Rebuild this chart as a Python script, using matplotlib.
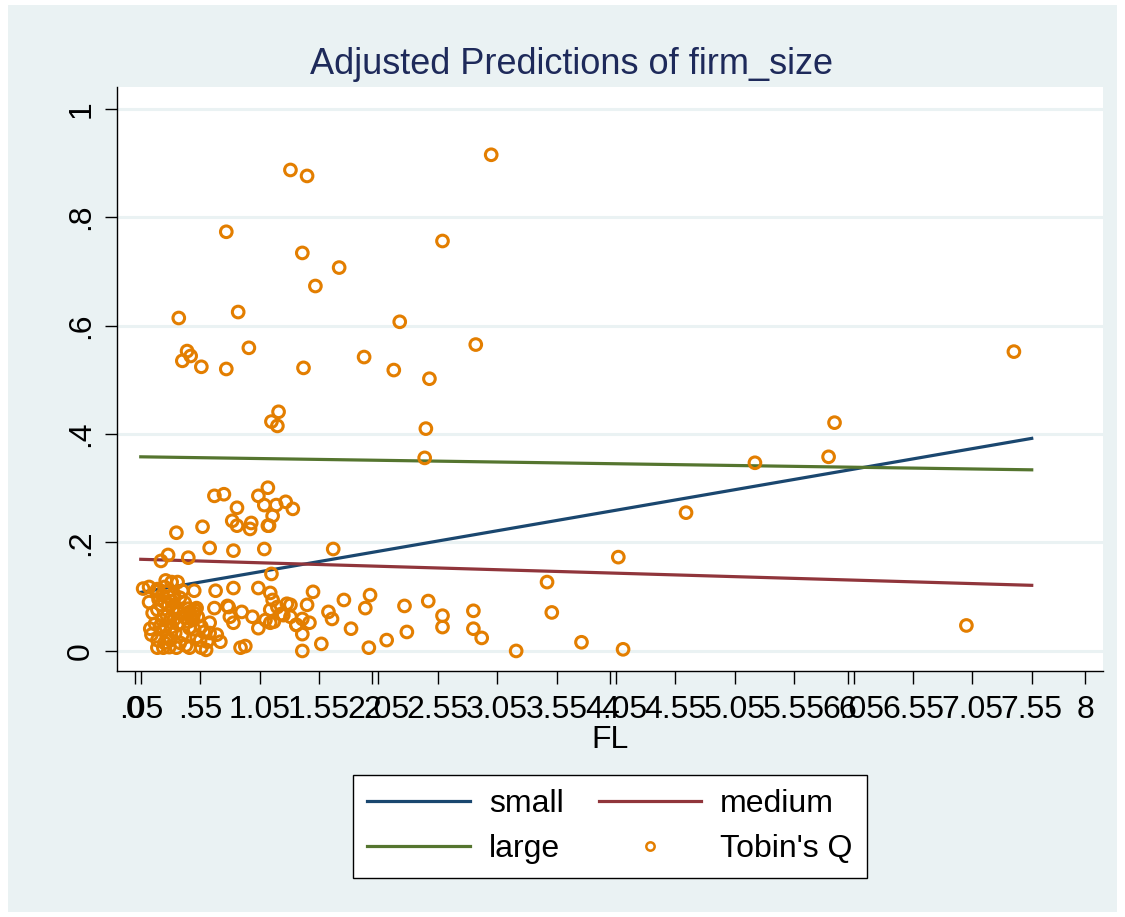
import matplotlib
matplotlib.use("Agg")
import matplotlib.pyplot as plt
from matplotlib.patches import Rectangle
from matplotlib.lines import Line2D

plt.rcParams['font.family'] = ['Liberation Sans', 'DejaVu Sans']

# margins lines (predicted values at FL = .05 and 7.55)
line_fl = [0.05, 7.55]
small_pred = [0.108, 0.392]
medium_pred = [0.169, 0.121]
large_pred = [0.358, 0.334]

# observed Tobin's Q vs FL
q_x = [1.31, 1.45, 3.00, 0.77, 1.41, 2.59, 1.72, 1.52, 0.37, 0.87, 2.23, 2.87, 0.96,
       0.44, 0.47, 0.40, 0.56, 0.77, 1.42, 1.93, 2.18, 2.48, 7.40,
       1.21, 1.15, 1.20, 5.89, 2.45, 5.84, 2.44, 5.22,
       0.67, 0.75, 0.86, 0.82, 0.86, 0.57, 0.35, 0.98, 0.97, 1.04, 1.12, 1.09, 1.19,
       1.27, 1.33, 1.16, 1.13, 1.12, 4.64,
       0.22, 0.28, 0.45, 0.63, 0.83, 1.09, 1.67, 4.07, 1.15,
       3.47, 3.51, 3.76, 4.11, 7.00, 3.21,
       1.50, 1.45, 1.41, 1.36, 1.47, 1.41, 1.41, 1.57, 1.63, 1.66, 1.76, 1.82, 1.94,
       1.98, 1.97, 2.12, 2.27, 2.29, 2.47, 2.59, 2.59, 2.85, 2.85, 2.92, 1.31, 1.31,
       0.12, 0.19, 0.25, 0.31, 0.36, 0.40, 0.50, 0.68, 0.83, 1.04, 1.14, 0.07, 0.26,
       0.23, 0.29, 0.19, 0.28, 0.32, 0.42, 0.46, 0.52, 0.53, 0.67, 0.78, 0.80, 0.83,
       0.90, 0.99, 1.16, 1.20, 1.14, 1.28, 1.25, 1.14, 1.10, 1.04, 1.17,
       0.13, 0.23, 0.24, 0.31, 0.34, 0.45, 0.46, 0.52, 0.63, 0.63, 0.69, 0.72, 0.55,
       0.61, 0.19, 0.19, 0.24, 0.29, 0.35, 0.38, 0.46, 0.56, 0.60, 0.89, 0.93,
       0.47, 0.50, 0.45, 0.49, 0.44, 0.51, 0.48, 0.42, 0.37, 0.35, 0.33, 0.27, 0.25,
       0.20, 0.31, 0.38, 0.56, 0.58, 0.40, 0.27, 0.21, 0.36, 0.25, 0.30, 0.43, 0.50,
       0.12, 0.15, 0.17, 0.14, 0.22, 0.26, 0.30, 0.33, 0.18, 0.28, 0.79, 1.23, 1.36]
q_y = [0.887, 0.876, 0.915, 0.773, 0.734, 0.756, 0.707, 0.673, 0.614, 0.625, 0.607, 0.565, 0.559,
       0.553, 0.544, 0.535, 0.524, 0.520, 0.522, 0.542, 0.518, 0.502, 0.552,
       0.441, 0.423, 0.415, 0.421, 0.410, 0.358, 0.356, 0.347,
       0.286, 0.289, 0.264, 0.240, 0.231, 0.229, 0.218, 0.236, 0.225, 0.286, 0.301, 0.269, 0.269,
       0.275, 0.262, 0.249, 0.231, 0.231, 0.255,
       0.166, 0.177, 0.172, 0.190, 0.185, 0.188, 0.188, 0.173, 0.142,
       0.127, 0.071, 0.016, 0.003, 0.047, 0.000,
       0.109, 0.085, 0.059, 0.048, 0.052, 0.031, 0.000, 0.013, 0.072, 0.059, 0.094, 0.041, 0.079,
       0.103, 0.006, 0.020, 0.083, 0.035, 0.092, 0.065, 0.044, 0.074, 0.041, 0.024, 0.085, 0.063,
       0.118, 0.114, 0.118, 0.127, 0.127, 0.111, 0.111, 0.111, 0.116, 0.116, 0.107, 0.115, 0.130,
       0.103, 0.100, 0.076, 0.085, 0.076, 0.089, 0.072, 0.079, 0.063, 0.079, 0.083, 0.063, 0.052,
       0.072, 0.063, 0.094, 0.081, 0.076, 0.087, 0.066, 0.052, 0.057, 0.042, 0.054,
       0.041, 0.057, 0.039, 0.044, 0.033, 0.054, 0.042, 0.026, 0.052, 0.033, 0.030, 0.017, 0.020,
       0.017, 0.020, 0.006, 0.006, 0.007, 0.006, 0.015, 0.006, 0.006, 0.002, 0.006, 0.009,
       0.065, 0.070, 0.078, 0.060, 0.068, 0.075, 0.058, 0.062, 0.070, 0.080, 0.058, 0.065, 0.090,
       0.095, 0.092, 0.098, 0.045, 0.035, 0.030, 0.025, 0.045, 0.050, 0.015, 0.020, 0.010, 0.040,
       0.090, 0.070, 0.050, 0.030, 0.085, 0.045, 0.060, 0.105, 0.110, 0.110, 0.081, 0.068, 0.048]

# axis ticks (Stata overlaid default ticks with the margins at() values)
xtick_vals = [0, 2, 4, 6, 8] + [0.05 + 0.5 * k for k in range(16)]
xtick_labels = ["0", "2", "4", "6", "8", ".05", ".55", "1.05", "1.55", "2.05", "2.55",
                "3.05", "3.55", "4.05", "4.55", "5.05", "5.55", "6.05", "6.55", "7.05", "7.55"]
ytick_vals = [0, 0.2, 0.4, 0.6, 0.8, 1.0]
ytick_labels = ["0", ".2", ".4", ".6", ".8", "1"]

bg = "#EAF2F3"
navy = "#1A476F"
maroon = "#90353B"
green = "#55752F"
orange = "#E37E00"

fig = plt.figure(figsize=(11.25, 9.17), dpi=100, facecolor="white")
fig.patches.append(Rectangle((8 / 1125, 1 - 912 / 917), (1117 - 8) / 1125, (912 - 5) / 917,
                             transform=fig.transFigure, facecolor=bg, edgecolor="none", zorder=-10))

ax = fig.add_axes([117 / 1125, 1 - 671 / 917, (1103 - 117) / 1125, (671 - 87) / 917])
ax.set_facecolor("white")

for yv in ytick_vals:
    ax.axhline(yv, color=bg, lw=2.2, zorder=0)

ax.plot(line_fl, small_pred, color=navy, lw=2.3, label="small", zorder=3)
ax.plot(line_fl, medium_pred, color=maroon, lw=2.3, label="medium", zorder=3)
ax.plot(line_fl, large_pred, color=green, lw=2.3, label="large", zorder=3)
ax.scatter(q_x, q_y, s=70, facecolors="none", edgecolors=orange, linewidths=2.2, zorder=4)

ax.set_xlim(-0.15, 8.15)
ax.set_ylim(-0.037, 1.04)
ax.set_xticks(xtick_vals)
ax.set_xticklabels(xtick_labels)
ax.set_yticks(ytick_vals)
ax.set_yticklabels(ytick_labels, rotation=90, va="center")
ax.tick_params(axis="both", length=9, width=1, color="black", labelsize=23, direction="out")
ax.tick_params(axis="x", pad=8)
ax.tick_params(axis="y", pad=6)

for s in ["top", "right"]:
    ax.spines[s].set_visible(False)
ax.spines["left"].set_linewidth(1)
ax.spines["bottom"].set_linewidth(1)

ax.set_xlabel("FL", fontsize=23, labelpad=0)
fig.text(572 / 1125, 1 - 64 / 917, "Adjusted Predictions of firm_size", ha="center", va="center",
         fontsize=26, color="#1E2A5A")

handles = [Line2D([], [], color=navy, lw=2.3),
           Line2D([], [], color=green, lw=2.3),
           Line2D([], [], color=maroon, lw=2.3),
           Line2D([], [], marker="o", ls="none", markerfacecolor="none",
                  markeredgecolor=orange, markersize=6, markeredgewidth=1.8)]
labels = ["small", "large", "medium", "Tobin's Q"]
leg = fig.legend(handles, labels, ncol=2, loc="upper center",
                 bbox_to_anchor=(610 / 1125, 1 - 775 / 917), borderaxespad=0, fontsize=23,
                 frameon=True, fancybox=False, edgecolor="black", framealpha=1,
                 handlelength=3.2, handletextpad=0.6, columnspacing=1.1,
                 labelspacing=0.45, borderpad=0.45)
leg.get_frame().set_linewidth(1)

fig.savefig("out.png", dpi=100, facecolor="white")
